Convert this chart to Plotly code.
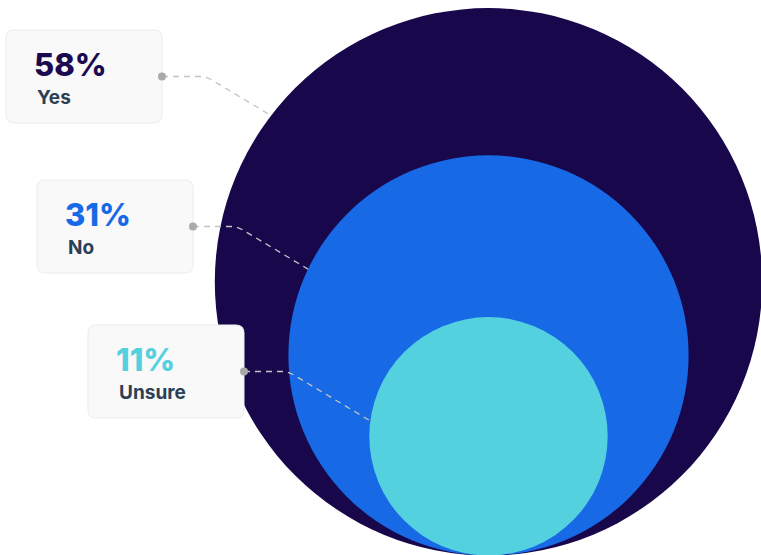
import math
import plotly.graph_objects as go

# Survey answers and their shares (%)
categories = ["Yes", "No", "Unsure"]
shares = [58, 31, 11]
value_labels = ["58%", "31%", "11%"]

circle_colors = ["#19074b", "#1769e6", "#54d1df"]
value_colors = ["#1b0a4f", "#176ae6", "#54d0df"]
label_color = "#2b3f55"

W, H = 761, 555

# Nested bubbles share a bottom tangent point; area is proportional to share
cx, base_y, r_max = 488.5, 555.5, 273.7
radii = [r_max * math.sqrt(v / max(shares)) for v in shares]

# Callout card placement (top-left corner of each card)
cards = [(6, 30), (37, 180), (88, 325)]
card_w, card_h, card_r = 156, 93, 8

fig = go.Figure()
shapes = []

# Bubbles
centers = []
for r, col in zip(radii, circle_colors):
    cy = base_y - r
    centers.append((cx, cy))
    shapes.append(dict(type="circle", xref="x", yref="y",
                       x0=cx - r, x1=cx + r, y0=cy - r, y1=cy + r,
                       fillcolor=col, line=dict(width=0), layer="above"))


def rounded_rect(x, y, w, h, rr):
    return (f"M {x+rr},{y} L {x+w-rr},{y} Q {x+w},{y} {x+w},{y+rr} "
            f"L {x+w},{y+h-rr} Q {x+w},{y+h} {x+w-rr},{y+h} "
            f"L {x+rr},{y+h} Q {x},{y+h} {x},{y+h-rr} "
            f"L {x},{y+rr} Q {x},{y} {x+rr},{y} Z")


dots = []
for i, (bx, by) in enumerate(cards):
    dx, dy = bx + card_w, by + 46.5
    dots.append((dx, dy))
    # elbow then a diagonal run until it meets the bubble edge
    ex = dx + 44
    ux, uy = 1 / math.hypot(1, 0.6), 0.6 / math.hypot(1, 0.6)
    ccx, ccy = centers[i]
    r = radii[i]
    sx, sy = ex + 5, dy + 3
    fx, fy = sx - ccx, sy - ccy
    b = fx * ux + fy * uy
    c = fx * fx + fy * fy - r * r
    t = -b - math.sqrt(max(b * b - c, 0))
    endx, endy = sx + t * ux, sy + t * uy
    path = (f"M {dx},{dy} L {ex-6},{dy} Q {ex},{dy} {sx},{sy} "
            f"L {endx},{endy}")
    shapes.append(dict(type="path", xref="x", yref="y", path=path,
                       line=dict(color="#c4c4c4", width=1.3, dash="6px,5px"),
                       layer="above"))

for bx, by in cards:
    shapes.append(dict(type="path", xref="x", yref="y",
                       path=rounded_rect(bx, by, card_w, card_h, card_r),
                       fillcolor="#f9f9f9", line=dict(color="#ececec", width=1),
                       layer="above"))

# connector anchor dots on the card edge
for dx, dy in dots:
    shapes.append(dict(type="circle", xref="x", yref="y",
                       x0=dx - 4, x1=dx + 4, y0=dy - 4, y1=dy + 4,
                       fillcolor="#a9a9a9", line=dict(width=0), layer="above"))

annotations = []
for i, (bx, by) in enumerate(cards):
    annotations.append(dict(x=bx + 26, y=by + 34, xref="x", yref="y",
                            text=value_labels[i], showarrow=False,
                            xanchor="left", yanchor="middle",
                            font=dict(family="Inter", size=31, weight=800,
                                      color=value_colors[i])))
    annotations.append(dict(x=bx + 29, y=by + 67, xref="x", yref="y",
                            text=categories[i], showarrow=False,
                            xanchor="left", yanchor="middle",
                            font=dict(family="Inter", size=19, weight=700,
                                      color=label_color)))

fig.update_layout(
    width=W, height=H,
    margin=dict(l=0, r=0, t=0, b=0),
    paper_bgcolor="white", plot_bgcolor="white",
    xaxis=dict(range=[0, W], visible=False, fixedrange=True),
    yaxis=dict(range=[H, 0], visible=False, fixedrange=True),
    shapes=shapes, annotations=annotations,
    showlegend=False,
)

fig.write_html("out.html")
